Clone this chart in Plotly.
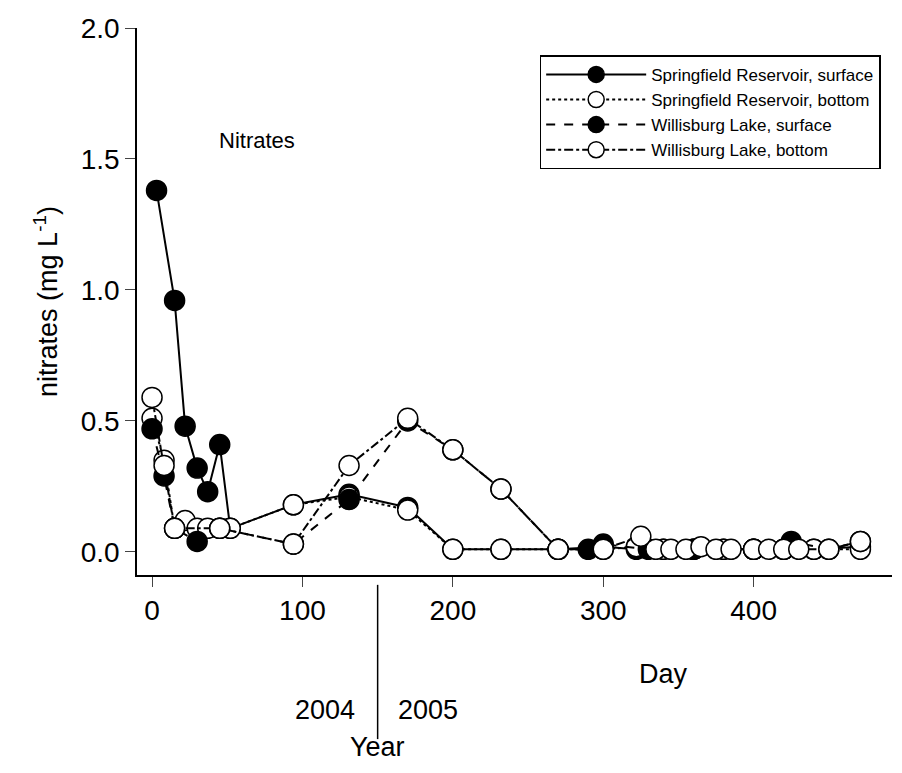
import plotly.graph_objects as go

# Springfield Reservoir, surface
sr_surf_day = [3, 15, 22, 30, 37, 45, 52, 94, 131, 170, 200, 232, 270, 300, 322, 340, 360, 380, 400, 420, 440, 471]
sr_surf_val = [1.38, 0.96, 0.48, 0.32, 0.23, 0.41, 0.09, 0.18, 0.22, 0.17, 0.01, 0.01, 0.01, 0.02, 0.01, 0.01, 0.01, 0.01, 0.01, 0.01, 0.01, 0.02]
# Springfield Reservoir, bottom
sr_bot_day = [0, 8, 15, 22, 30, 37, 45, 52, 94, 131, 170, 200, 232, 270, 300, 322, 340, 360, 380, 400, 420, 440, 471]
sr_bot_val = [0.51, 0.35, 0.09, 0.12, 0.09, 0.09, 0.09, 0.09, 0.18, 0.21, 0.16, 0.01, 0.01, 0.01, 0.01, 0.02, 0.01, 0.01, 0.01, 0.01, 0.01, 0.01, 0.01]
# Willisburg Lake, surface
wl_surf_day = [0, 8, 15, 30, 45, 94, 131, 170, 200, 232, 270, 290, 300, 330, 360, 400, 425, 450, 471]
wl_surf_val = [0.47, 0.29, 0.09, 0.04, 0.09, 0.03, 0.20, 0.50, 0.39, 0.24, 0.01, 0.01, 0.03, 0.01, 0.01, 0.01, 0.04, 0.01, 0.04]
# Willisburg Lake, bottom
wl_bot_day = [0, 8, 15, 45, 94, 131, 170, 200, 232, 270, 300, 325, 335, 345, 355, 365, 375, 385, 400, 410, 420, 430, 450, 471]
wl_bot_val = [0.59, 0.33, 0.09, 0.09, 0.03, 0.33, 0.51, 0.39, 0.24, 0.01, 0.01, 0.06, 0.01, 0.01, 0.01, 0.02, 0.01, 0.01, 0.01, 0.01, 0.01, 0.01, 0.01, 0.04]

fig = go.Figure()

def add(name, x, y, dash, filled):
    fig.add_trace(go.Scatter(
        x=x, y=y, name=name, mode='lines+markers',
        line=dict(color='black', width=2, dash=dash),
        marker=dict(size=20, color='black' if filled else 'white',
                    line=dict(color='black', width=1.5))))

add('Springfield Reservoir, surface', sr_surf_day, sr_surf_val, 'solid', True)
add('Springfield Reservoir, bottom', sr_bot_day, sr_bot_val, 'dot', False)
add('Willisburg Lake, surface', wl_surf_day, wl_surf_val, 'dash', True)
add('Willisburg Lake, bottom', wl_bot_day, wl_bot_val, 'dashdot', False)

# Year divider
fig.add_shape(type='line', xref='x', yref='paper', x0=150, x1=150, y0=-0.018, y1=-0.30,
              line=dict(color='black', width=1.5))

fig.add_annotation(x=70, y=1.57, text='Nitrates', showarrow=False, font=dict(size=22))
fig.add_annotation(x=136, y=-0.278, xref='x', yref='paper', text='2004', showarrow=False, xanchor='right', font=dict(size=27))
fig.add_annotation(x=162, y=-0.278, xref='x', yref='paper', text='2005', showarrow=False, xanchor='left', font=dict(size=27))
fig.add_annotation(x=150, y=-0.345, xref='x', yref='paper', text='Year', showarrow=False, font=dict(size=27))
fig.add_annotation(x=340, y=-0.212, xref='x', yref='paper', text='Day', showarrow=False, font=dict(size=27))

fig.update_layout(
    width=886, height=757,
    margin=dict(l=129, r=2, t=20, b=190),
    plot_bgcolor='white', paper_bgcolor='white',
    font=dict(family='Arial, Liberation Sans', color='black'),
    showlegend=True,
    legend=dict(x=0.985, y=0.95, xanchor='right', yanchor='top',
                bordercolor='black', borderwidth=1.5, bgcolor='white',
                font=dict(size=17), tracegroupgap=6, itemwidth=100),
    xaxis=dict(range=[-10, 492], tickvals=[0, 100, 200, 300, 400], automargin=False,
               showline=True, linecolor='black', linewidth=1.5, ticks='outside',
               ticklen=10, tickfont=dict(size=28), showgrid=False, zeroline=False),
    yaxis=dict(range=[-0.088, 2.0], tickvals=[0, 0.5, 1.0, 1.5, 2.0], automargin=False,
               ticktext=['0.0', '0.5', '1.0', '1.5', '2.0'],
               showline=True, linecolor='black', linewidth=1.5, ticks='outside',
               ticklen=10, tickfont=dict(size=28), showgrid=False, zeroline=False,
               title=dict(text='nitrates (mg L<sup>-1</sup>)', font=dict(size=27))),
)

fig.write_html('out.html')
